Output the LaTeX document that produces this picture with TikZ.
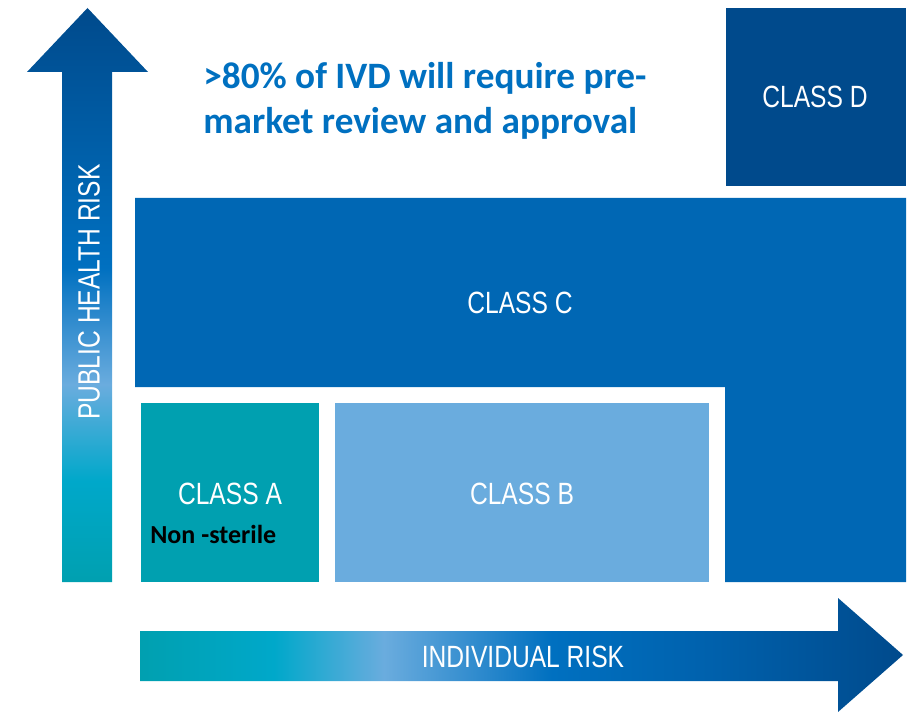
\documentclass[tikz,border=0pt]{standalone}
\usepackage{fontspec}
\setmainfont{Carlito}
\newfontfamily\narrowsf[FakeStretch=0.8]{Liberation Sans}
\definecolor{riskteal}{HTML}{00A0B0}
\definecolor{riskcyan}{HTML}{00A8CA}
\definecolor{risklight}{HTML}{6AACDE}
\definecolor{riskblue}{HTML}{0070C0}
\definecolor{riskmid}{HTML}{0062AE}
\definecolor{riskdark}{HTML}{004A8C}
\definecolor{classC}{HTML}{0067B4}
\definecolor{titleblue}{HTML}{0070C0}
% middle 25bp..75bp of each shading covers the arrow
\pgfdeclarehorizontalshading{indivrisk}{100bp}{color(0bp)=(riskteal); color(25bp)=(riskteal);
  color(33.8bp)=(riskcyan); color(41bp)=(risklight); color(52bp)=(riskblue);
  color(61.7bp)=(riskmid); color(75bp)=(riskdark); color(100bp)=(riskdark)}
\pgfdeclareverticalshading{publicrisk}{100bp}{color(0bp)=(riskteal); color(25bp)=(riskteal);
  color(33.8bp)=(riskcyan); color(42.2bp)=(risklight); color(52.4bp)=(riskblue);
  color(75bp)=(riskdark); color(100bp)=(riskdark)}

\begin{document}
\begin{tikzpicture}[x=0.02cm,y=-0.02cm,
    lbl/.style={text=white,inner sep=0pt,font=\narrowsf\fontsize{17.5}{20}\selectfont}]
  \useasboundingbox (0,0) rectangle (915,712);
  % axes
  \shade[shading=publicrisk] (62,582) -- (62,72) -- (27,72) -- (87.5,8) -- (148,72)
    -- (112,72) -- (112,582) -- cycle;
  \node[lbl,rotate=90] (public) at (89,292) {PUBLIC HEALTH RISK};
  \shade[shading=indivrisk] (140,631) -- (838,631) -- (838,598) -- (903,655) -- (838,712)
    -- (838,681) -- (140,681) -- cycle;
  \node[lbl] (indiv) at (523,657) {INDIVIDUAL RISK};
  % classes
  \fill[riskteal] (141,403) rectangle (319,582);
  \node[lbl] (clsA) at (230,494) {CLASS A};
  \node[inner sep=0pt,anchor=west,font=\bfseries\fontsize{14.8}{17}\selectfont] (sterile)
    at (150,534) {Non -sterile};
  \fill[risklight] (335,403) rectangle (709,582);
  \node[lbl] (clsB) at (522,494) {CLASS B};
  \fill[classC] (135,198) -- (906,198) -- (906,582) -- (725,582) -- (725,387)
    -- (135,387) -- cycle;
  \node[lbl] (clsC) at (520,303) {CLASS C};
  \fill[riskdark] (726,8) rectangle (906,186);
  \node[lbl] (clsD) at (815,97) {CLASS D};
  \node[anchor=north west,inner sep=0pt,align=left,text=titleblue,
    font=\bfseries\fontsize{21.2}{25.5}\selectfont] (title) at (203,62)
    {>80\% of IVD will require pre-\\market review and approval};
\end{tikzpicture}
\end{document}
